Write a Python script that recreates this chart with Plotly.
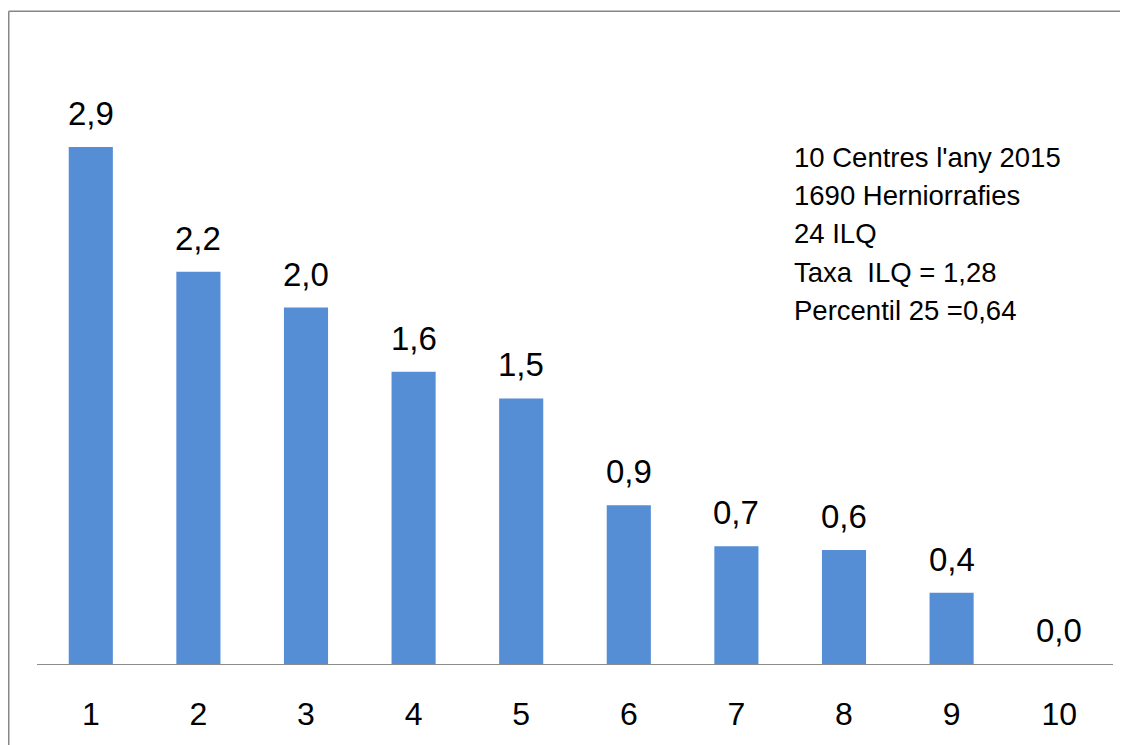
import plotly.graph_objects as go

# Data
centres = [1, 2, 3, 4, 5, 6, 7, 8, 9, 10]
taxa = [2.9, 2.2, 2.0, 1.64, 1.49, 0.89, 0.66, 0.64, 0.4, 0.0]
info_lines = [
    "10 Centres l'any 2015",
    "1690 Herniorrafies",
    "24 ILQ",
    "Taxa  ILQ = 1,28",
    "Percentil 25 =0,64",
]

FONT = "Liberation Sans, Arial, sans-serif"
BLUE = "#558ed5"

# the page body adds an 8px offset; keep the figure inside the window
OFF = 8
W, H = 1128 - OFF, 745 - OFF
plot_l, plot_r = 37 - OFF, W - (1113 - OFF)
plot_t, plot_b = 20 - OFF, H - (663.6 - OFF)
pw = W - plot_l - plot_r
ph = H - plot_t - plot_b

fig = go.Figure()

fig.add_trace(
    go.Bar(
        x=centres,
        y=taxa,
        marker=dict(color=BLUE, line=dict(width=0)),
        width=0.41,
        showlegend=False,
        hoverinfo="skip",
    )
)

# value labels above bars (decimal comma)
annotations = []
for c, v in zip(centres, taxa):
    annotations.append(
        dict(
            x=c,
            y=v,
            xref="x",
            yref="y",
            text=f"{v:.1f}".replace(".", ","),
            showarrow=False,
            yanchor="bottom",
            yshift=13,
            font=dict(family=FONT, size=33, color="black"),
        )
    )

# info text block in the upper right (screen px positions)
for i, line in enumerate(info_lines):
    px, py = 792 - OFF, 157 + i * 38.3 - OFF
    annotations.append(
        dict(
            x=(px - plot_l) / pw,
            y=(H - plot_b - py) / ph,
            xref="paper",
            yref="paper",
            text=line,
            showarrow=False,
            xanchor="left",
            yanchor="middle",
            font=dict(family=FONT, size=27.5, color="black"),
        )
    )

# outer chart frame: only the left and top edges are in view
frame_x = (8 - OFF + 0.75 - plot_l) / pw
frame_y = (H - plot_b - (11.3 - OFF)) / ph
frame_line = dict(color="#878787", width=1.5)

fig.update_layout(
    width=W,
    height=H,
    margin=dict(l=plot_l, r=plot_r, t=plot_t, b=plot_b, pad=0),
    paper_bgcolor="white",
    plot_bgcolor="white",
    separators=",.",
    bargap=0.59,
    annotations=annotations,
    xaxis=dict(
        range=[0.5, 10.5],
        tickvals=centres,
        ticktext=[str(c) for c in centres],
        tickfont=dict(family=FONT, size=32, color="black"),
        showgrid=False,
        zeroline=False,
        showline=True,
        linecolor="#8c8c8c",
        linewidth=1.3,
        ticks="",
        ticklabelstandoff=21,
    ),
    yaxis=dict(
        range=[0, ph / (516.6 / 2.9)],
        visible=False,
        showgrid=False,
        zeroline=False,
    ),
    shapes=[
        dict(type="line", xref="paper", yref="paper",
             x0=frame_x, x1=frame_x, y0=-0.5, y1=frame_y, line=frame_line),
        dict(type="line", xref="paper", yref="paper",
             x0=frame_x, x1=1.5, y0=frame_y, y1=frame_y, line=frame_line),
    ],
)

fig.write_html("out.html")
